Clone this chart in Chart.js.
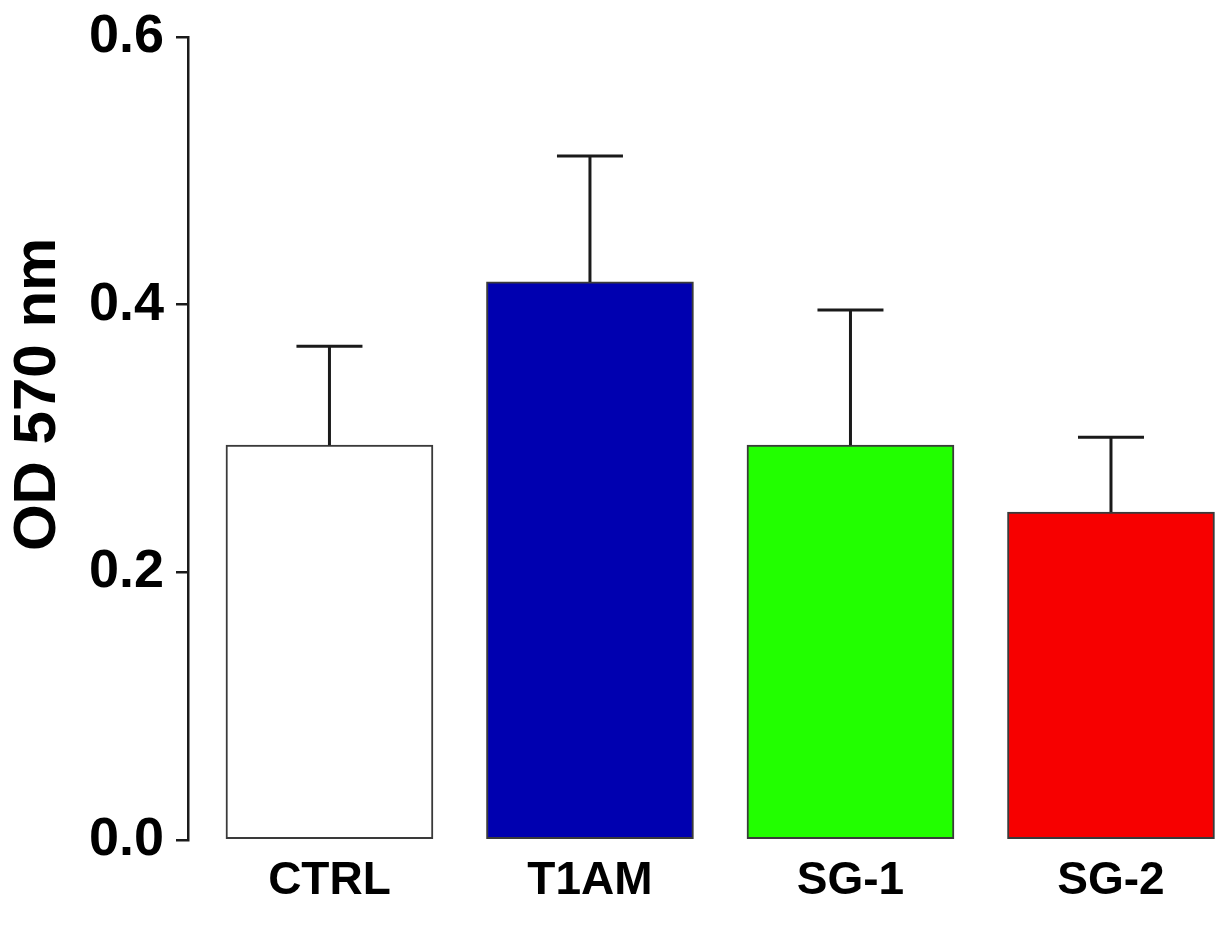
<!DOCTYPE html>
<html>
<head>
<meta charset="utf-8">
<script src="https://cdn.jsdelivr.net/npm/chart.js@4.4.1/dist/chart.umd.min.js"></script>
<style>
  html, body { margin: 0; padding: 0; background: #fff; }
  #wrap { width: 1223px; height: 941px; }
</style>
</head>
<body>
<div id="wrap"><canvas id="myChart" width="1223" height="941"></canvas></div>
<script>
// datos
const groups = ["CTRL", "T1AM", "SG-1", "SG-2"];
const means = [0.295, 0.417, 0.295, 0.245];
const errorTops = [0.369, 0.511, 0.396, 0.301];
const barColors = ["#ffffff", "#0000b0", "#22ff00", "#f70000"];
const yTicks = [0, 0.2, 0.4, 0.6];
const yTitle = "OD 570 nm";

const ctx = document.querySelector("#myChart");

// barras de error dibujadas con las escalas del grafico
const errorBars = {
  id: "errorBars",
  afterDatasetsDraw(chart) {
    const c = chart.ctx;
    const x = chart.scales.x;
    const y = chart.scales.y;
    c.save();
    c.strokeStyle = "#1a1a1a";
    c.lineWidth = 3;
    means.forEach((m, i) => {
      const px = x.getPixelForValue(i);
      const y0 = y.getPixelForValue(m);
      const y1 = y.getPixelForValue(errorTops[i]);
      c.beginPath();
      c.moveTo(px, y0);
      c.lineTo(px, y1);
      c.moveTo(px - 33, y1);
      c.lineTo(px + 33, y1);
      c.stroke();
    });
    c.restore();
  },
};

// titulo del eje Y, un poco por encima del centro como en el original
const axisTitle = {
  id: "axisTitle",
  afterDraw(chart) {
    const c = chart.ctx;
    const y = chart.scales.y;
    c.save();
    c.translate(38, y.getPixelForValue(0.333));
    c.rotate(-Math.PI / 2);
    c.font = "bold 60px 'Liberation Sans'";
    c.fillStyle = "#000";
    c.textAlign = "center";
    c.textBaseline = "middle";
    c.fillText(yTitle, 0, 0);
    c.restore();
  },
};

const myChart = new Chart(ctx, {
  type: "bar",
  data: {
    datasets: [
      {
        data: means.map((v, i) => ({ x: i, y: v })),
        backgroundColor: barColors,
        borderColor: "#3a3a3a",
        borderWidth: 2,
        borderSkipped: false,
        barThickness: 207,
      },
    ],
  },
  options: {
    responsive: false,
    animation: false,
    plugins: { legend: { display: false }, tooltip: { enabled: false } },
    layout: { padding: { top: 37, left: 0, right: 0, bottom: 0 } },
    scales: {
      x: {
        type: "linear",
        min: -0.543,
        max: 3.43,
        offset: false,
        grid: { display: false },
        border: { display: false },
        afterFit: (scale) => { scale.height = 101; },
        afterBuildTicks: (scale) => {
          scale.ticks = groups.map((g, i) => ({ value: i }));
        },
        ticks: {
          padding: 6,
          color: "#000",
          font: { family: "Liberation Sans", weight: "bold", size: 46 },
          callback: (v) => groups[v],
        },
      },
      y: {
        min: 0,
        max: 0.6,
        afterFit: (scale) => { scale.width = 188; },
        afterBuildTicks: (scale) => {
          scale.ticks = yTicks.map((v) => ({ value: v }));
        },
        grid: {
          display: true,
          drawOnChartArea: false,
          drawTicks: true,
          tickLength: 12,
          color: "#1a1a1a",
          lineWidth: 2.5,
        },
        border: { display: true, color: "#1a1a1a", width: 2.5 },
        ticks: {
          padding: 12,
          color: "#000",
          font: { family: "Liberation Sans", weight: "bold", size: 54, lineHeight: 0.9 },
          callback: (v) => v.toFixed(1),
        },
      },
    },
  },
  plugins: [errorBars, axisTitle],
});
</script>
</body>
</html>
